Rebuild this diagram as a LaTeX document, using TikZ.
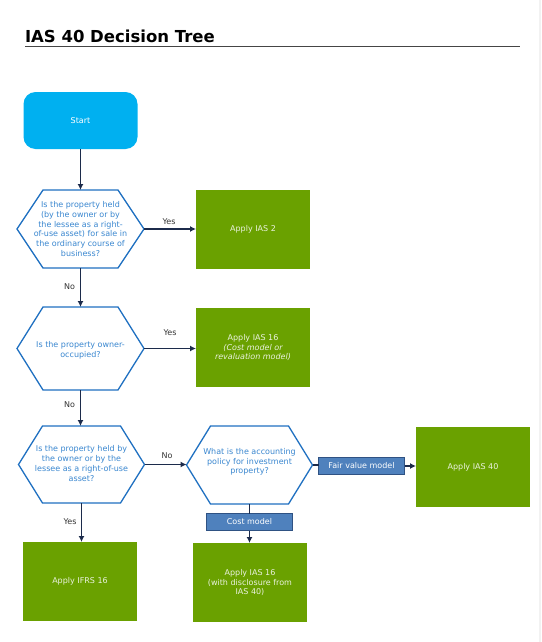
\documentclass[tikz,border=0pt]{standalone}
\usepackage{fontspec}
\setmainfont{DejaVu Sans}
\usetikzlibrary{arrows.meta}
\definecolor{startc}{HTML}{00B0F0}
\definecolor{greenc}{HTML}{6AA100}
\definecolor{greentext}{HTML}{EAF2DF}
\definecolor{hexc}{HTML}{1F70C1}
\definecolor{hextext}{HTML}{3A87D0}
\definecolor{bluebox}{HTML}{4F81BD}
\definecolor{blueedge}{HTML}{2F5283}
\definecolor{arrowc}{HTML}{1C2B4B}
\definecolor{labelc}{HTML}{333333}
\definecolor{rulec}{HTML}{454545}
\definecolor{stripc}{HTML}{F2F2F2}
\newcommand{\hexoutline}[2]{\draw[hexline] (#1.west) -- ([xshift=#2]#1.north west) -- ([xshift=-#2]#1.north east) -- (#1.east) -- ([xshift=-#2]#1.south east) -- ([xshift=#2]#1.south west) -- cycle;}
\begin{document}
\begin{tikzpicture}[x=1pt,y=-1pt,
  every node/.style={inner sep=0pt, outer sep=0pt},
  txt/.style={font=\fontsize{8}{9.7}\selectfont, align=center},
  startbox/.style={txt, fill=startc, text=white, rounded corners=12pt, minimum width=114pt, minimum height=57pt},
  hexq/.style={txt, text=hextext, minimum width=127pt, minimum height=78pt},
  hexline/.style={draw=hexc, line width=1.3pt, fill=white, line join=miter},
  resultbox/.style={txt, fill=greenc, text=greentext, minimum width=114pt, minimum height=79pt},
  modelbox/.style={txt, fill=bluebox, draw=blueedge, line width=1.2pt, text=white, minimum width=86pt, minimum height=17pt},
  conn/.style={draw=arrowc, line width=1.3pt},
  arr/.style={conn, -{Latex[length=6pt,width=6pt]}},
  lbl/.style={txt, text=labelc}
]
\useasboundingbox (0,0) rectangle (541,642);
\fill[stripc] (538.5,0) rectangle (541,642);

% title
\node[anchor=base west, font=\fontsize{16.5}{18}\selectfont\bfseries, text=black] (title) at (25,42) {IAS 40 Decision Tree};
\coordinate (ruleA) at (25,46.5);
\coordinate (ruleB) at (520,46.5);
\draw[rulec, line width=1.6pt] (ruleA) -- (ruleB);

% nodes
\node[startbox] (start) at (80.5,120.5) {Start};

\node[hexq, minimum height=78pt] (q1) at (80.5,229) {};
\node[hexq, minimum height=83pt] (q2) at (80.5,348.5) {};
\node[hexq, minimum width=126pt, minimum height=77pt] (q3) at (81.5,464.5) {};
\node[hexq, minimum width=126pt, minimum height=78pt] (q4) at (249.5,465) {};
\hexoutline{q1}{26pt}
\hexoutline{q2}{26pt}
\hexoutline{q3}{24pt}
\hexoutline{q4}{24pt}
\node[txt, text=hextext] (q1t) at (q1) {Is the property held\\(by the owner or by\\the lessee as a right-\\of-use asset) for sale in\\the ordinary course of\\business?};
\node[txt, text=hextext] (q2t) at ([yshift=-1.5pt]q2) {Is the property owner-\\occupied?};
\node[txt, text=hextext] (q3t) at ([yshift=1pt]q3) {Is the property held by\\the owner or by the\\lessee as a right-of-use\\asset?};
\node[txt, text=hextext] (q4t) at ([yshift=3pt]q4) {What is the accounting\\policy for investment\\property?};

\node[resultbox] (ias2) at (253,229.5) {Apply IAS 2};
\node[resultbox] (ias16) at (253,347.5) {Apply IAS 16\\\itshape (Cost model or\\\itshape revaluation model)};
\node[resultbox, minimum height=80pt] (ias40) at (473,467) {Apply IAS 40};
\node[resultbox] (ifrs16) at (80,581.5) {Apply IFRS 16};
\node[resultbox] (ias16b) at (250,582.5) {Apply IAS 16\\(with disclosure from\\IAS 40)};

\node[modelbox] (fair) at (361.5,466) {Fair value model};
\node[modelbox] (cost) at (249.5,522) {Cost model};

% connectors
\draw[arr] (start.south) -- (start.south |- q1.north);
\draw[arr] (q1.east) -- (ias2.west |- q1.east);
\draw[arr] (q1.south) -- (q1.south |- q2.north);
\draw[arr] (q2.east) -- (ias16.west |- q2.east);
\draw[arr] (q2.south) -- (q2.south |- q3.north);
\draw[arr] (q3.east) -- (q4.west |- q3.east);
\draw[arr] (q3.south) -- (q3.south |- ifrs16.north);
\draw[conn] (q4.east) -- (fair.west |- q4.east);
\draw[arr] (fair.east) -- (ias40.west |- fair.east);
\draw[conn] (q4.south) -- (cost.north);
\draw[arr] (cost.south) -- (cost.south |- ias16b.north);

% labels
\node[lbl] (l1) at (169,221.5) {Yes};
\node[lbl] (l2) at (170,333) {Yes};
\node[lbl] (l3) at (69.5,287) {No};
\node[lbl] (l4) at (69.5,405) {No};
\node[lbl] (l5) at (167,456) {No};
\node[lbl] (l6) at (70,521.5) {Yes};
\end{tikzpicture}
\end{document}
